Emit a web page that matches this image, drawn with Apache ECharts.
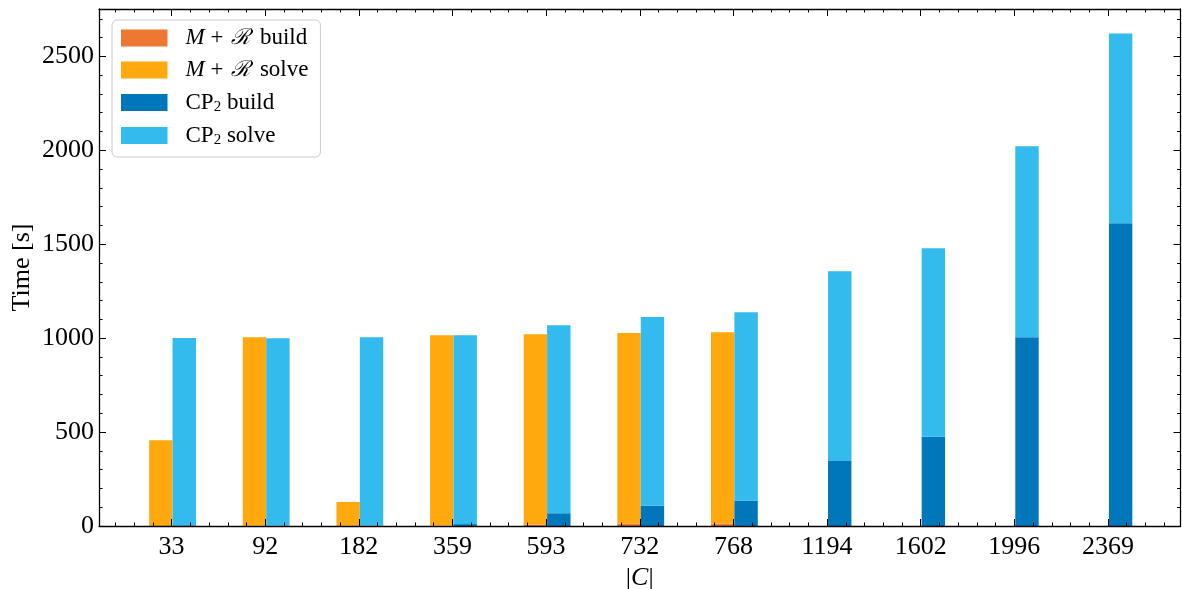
<!DOCTYPE html>
<html>
<head>
<meta charset="utf-8">
<script src="https://cdn.jsdelivr.net/npm/echarts@6/dist/echarts.min.js"></script>
<style>html,body{margin:0;padding:0;background:#fff;}#c{width:1182px;height:589px;}</style>
</head>
<body>
<div id="c"></div>
<script>
const categories = ['33','92','182','359','593','732','768','1194','1602','1996','2369'];
const mrBuild = [0.5, 1, 1, 2, 8, 13, 13, 0, 0, 0, 0];
const mrSolve = [456, 1004, 127, 1014, 1013, 1014, 1019, 0, 0, 0, 0];
const cpBuild = [0.5, 1, 2, 10, 68, 108, 135, 346, 475, 1005, 1612];
const cpSolve = [1000, 999, 1003, 1006, 1001, 1004, 1003, 1010, 1004, 1016, 1010];
const yMajorTicks = [0, 500, 1000, 1500, 2000, 2500];
const yMinorTicks = [100,200,300,400,600,700,800,900,1100,1200,1300,1400,1600,1700,1800,1900,2100,2200,2300,2400,2600,2700];

const xMajor = categories.map((c, i) => i);
const xMinor = [];
for (let k = -3; k <= 53; k++) { if (k % 5 !== 0) xMinor.push(k / 5); }

const FONT = 'Liberation Serif';
const black = '#000';
const YMAX = 2752;
const chart = echarts.init(document.getElementById('c'));

function xAx(pos, ticks, len, labels, line) {
  return {
    gridIndex: 0, z: 5,
    type: 'value', position: pos, min: -0.775, max: 10.775,
    axisLine: {show: line, onZero: false, lineStyle: {color: black, width: 1.3}},
    axisTick: {show: true, inside: true, length: len, customValues: ticks, lineStyle: {color: black, width: 1}},
    axisLabel: labels ? {show: true, customValues: xMajor, margin: 8, color: black, fontFamily: FONT, fontSize: 26,
      formatter: v => categories[Math.round(v)]} : {show: false},
    splitLine: {show: false}
  };
}
function yAx(pos, ticks, len, labels, line) {
  return {
    gridIndex: 0, z: 5,
    type: 'value', position: pos, min: 0, max: YMAX,
    axisLine: {show: line, onZero: false, lineStyle: {color: black, width: 1.3}},
    axisTick: {show: true, inside: true, length: len, customValues: ticks, lineStyle: {color: black, width: 1}},
    axisLabel: labels ? {show: true, customValues: yMajorTicks, margin: 5, color: black, fontFamily: FONT, fontSize: 26,
      formatter: v => String(v)} : {show: false},
    splitLine: {show: false}
  };
}

const xAxes = [xAx('bottom', xMajor, 7, true, true), xAx('bottom', xMinor, 3.5, false, false),
               xAx('top', xMajor, 7, false, true), xAx('top', xMinor, 3.5, false, false)];
xAxes[0].name = '|{i|C}|';
xAxes[0].nameLocation = 'middle';
xAxes[0].nameGap = 36;
xAxes[0].nameTextStyle = {color: black, fontFamily: FONT, fontSize: 26, rich: {i: {fontStyle: 'italic', fontFamily: FONT, fontSize: 26}}};
// hidden category axis that carries the bars
xAxes.push({gridIndex: 1, type: 'category', data: categories, show: false, boundaryGap: true});

const yAxes = [yAx('left', yMajorTicks, 7, true, true), yAx('left', yMinorTicks, 3.5, false, false),
               yAx('right', yMajorTicks, 7, false, true), yAx('right', yMinorTicks, 3.5, false, false)];
yAxes[0].name = 'Time [s]';
yAxes[0].nameLocation = 'middle';
yAxes[0].nameGap = 64;
yAxes[0].nameMoveOverlap = false;
yAxes[0].nameTextStyle = {color: black, fontFamily: FONT, fontSize: 26};
yAxes.push({gridIndex: 1, type: 'value', min: 0, max: YMAX, show: false, splitLine: {show: false}});

const colors = ['#EE7733', '#FFA90E', '#0077BB', '#33BBEE'];
const names = ['M + R build', 'M + R solve', 'CP2 build', 'CP2 solve'];
const values = [mrBuild, mrSolve, cpBuild, cpSolve];
const stacks = ['mr', 'mr', 'cp', 'cp'];
const legendText = {
  'M + R build': '{i|M} + {r|ℛ} build',
  'M + R solve': '{i|M} + {r|ℛ} solve',
  'CP2 build': 'CP{sub|2} build',
  'CP2 solve': 'CP{sub|2} solve'
};

const series = names.map((n, k) => ({
  name: n, type: 'bar', stack: stacks[k], xAxisIndex: 4, yAxisIndex: 4,
  barWidth: 23.4, barGap: '0%',
  itemStyle: {color: colors[k]},
  emphasis: {disabled: true},
  data: values[k]
}));

chart.setOption({
  animation: false,
  grid: [
    {left: 99, right: 1.5, top: 9, bottom: 63, containLabel: false, outerBoundsMode: 'none'},
    {left: 125.75, right: 26.25, top: 9, bottom: 63, containLabel: false, outerBoundsMode: 'none'}
  ],
  legend: {
    orient: 'vertical', left: 112, top: 20, padding: [6, 12, 9, 9],
    itemWidth: 46.5, itemHeight: 17, itemGap: 8,
    borderColor: '#cccccc', borderWidth: 1, borderRadius: 5, backgroundColor: '#fff',
    icon: 'rect', data: names,
    formatter: n => legendText[n],
    textStyle: {color: black, fontFamily: FONT, fontSize: 23, lineHeight: 24, padding: [0, 0, 0, 13],
      rich: {
        i: {fontStyle: 'italic', fontFamily: FONT, fontSize: 23, lineHeight: 24},
        r: {fontFamily: 'DejaVu Serif', fontSize: 22, fontStyle: 'italic', lineHeight: 24, padding: [0, 4, 0, 2]},
        sub: {fontFamily: FONT, fontSize: 15, lineHeight: 14, padding: [10, 0, 0, 0]}
      }}
  },
  xAxis: xAxes,
  yAxis: yAxes,
  series: series
});
</script>
</body>
</html>
